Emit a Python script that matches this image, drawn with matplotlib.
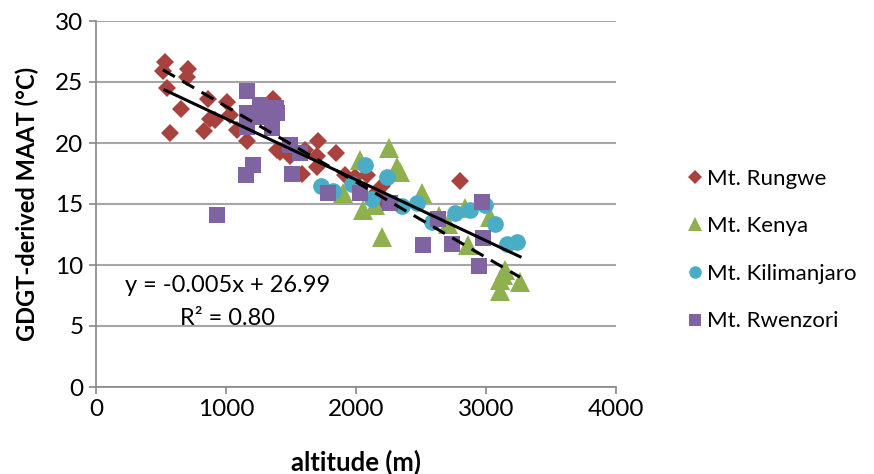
import matplotlib.pyplot as plt
import numpy as np

# --- data (altitude m, MAAT degC) ---
rungwe_alt = [531, 515, 546, 708, 700, 654, 569, 831, 862, 877, 915, 1008, 1031, 1085,
              1162, 1362, 1392, 1415, 1492, 1585, 1608, 1700, 1708, 1700, 1846, 1915,
              1992, 2085, 2162, 2200, 2208, 2800]
rungwe_t = [26.6, 25.9, 24.5, 26.1, 25.4, 22.8, 20.8, 21.0, 23.6, 22.0, 21.9, 23.4, 22.3, 21.1,
            20.2, 23.6, 19.4, 19.3, 18.9, 17.5, 19.4, 18.9, 20.2, 18.0, 19.2, 17.4,
            17.2, 17.4, 16.0, 16.5, 15.2, 16.9]

kenya_alt = [1900, 2031, 2054, 2146, 2200, 2254, 2315, 2338, 2508, 2638, 2708, 2838, 2862,
             3031, 3108, 3108, 3146, 3131, 3262]
kenya_t = [15.9, 18.6, 14.5, 14.9, 12.3, 19.6, 18.0, 17.6, 15.9, 14.0, 13.4, 14.7, 11.6,
           13.9, 8.8, 7.9, 9.6, 9.2, 8.6]

kili_alt = [1731, 1823, 1969, 2069, 2123, 2238, 2354, 2469, 2585, 2762, 2877, 2992, 3069,
            3162, 3238]
kili_t = [16.5, 16.1, 16.6, 18.2, 15.4, 17.2, 14.8, 15.1, 13.5, 14.3, 14.5, 14.9, 13.4,
          11.7, 11.9]

rwen_alt = [931, 1154, 1208, 1162, 1162, 1162, 1262, 1269, 1385, 1354, 1392, 1492, 1508,
            1569, 1785, 2031, 2262, 2515, 2631, 2738, 2969, 2977, 2946]
rwen_t = [14.1, 17.4, 18.2, 24.3, 22.5, 21.3, 23.1, 22.1, 22.9, 21.2, 22.5, 19.8, 17.5,
          19.2, 15.9, 15.9, 15.1, 11.6, 13.8, 11.7, 15.2, 12.2, 9.9]

# regression (solid) and dashed reference line endpoints
fit_slope, fit_icept = -0.005, 26.99
fit_range = [530, 3262]
dash_alt = [515, 3262]
dash_t = [26.0, 9.0]

font = 'Lato'
fs = 17.5

fig = plt.figure(figsize=(8.74, 4.74), dpi=100)
ax = fig.add_axes([96 / 874, 1 - 387 / 474, 520 / 874, 366 / 474])

ax.plot(rungwe_alt, rungwe_t, 'D', color='#A8423F', ms=9.5, mew=0, label='Mt. Rungwe', zorder=3)
ax.plot(kenya_alt, kenya_t, '^', color='#8FB04F', ms=14, mew=0, label='Mt. Kenya', zorder=3)
ax.plot(kili_alt, kili_t, 'o', color='#4BACC6', ms=12, mew=0, label='Mt. Kilimanjaro', zorder=3)
ax.plot(rwen_alt, rwen_t, 's', color='#8064A2', ms=11, mew=0, label='Mt. Rwenzori', zorder=3)

fx = np.array(fit_range)
ax.plot(fx, fit_slope * fx + fit_icept, color='black', lw=2.2, zorder=4)
ax.plot(dash_alt, dash_t, color='black', lw=2.2, ls=(0, (4.5, 2.8)), zorder=4)

ax.set_xlim(0, 4000)
ax.set_ylim(0, 30)
ax.set_xticks([0, 1000, 2000, 3000, 4000])
ax.set_yticks(range(0, 31, 5))
ax.yaxis.grid(True, color='#A6A6A6', lw=1.5)
ax.set_axisbelow(True)
for s in ['top', 'right']:
    ax.spines[s].set_visible(False)
for s in ['left', 'bottom']:
    ax.spines[s].set_color('#888888')
    ax.spines[s].set_linewidth(1.2)
ax.tick_params(colors='#888888', length=5, width=1.2, labelcolor='black', labelsize=fs, pad=4)
for lab in ax.get_xticklabels() + ax.get_yticklabels():
    lab.set_fontfamily(font)

ax.set_xlabel('altitude (m)', fontsize=18.5, fontweight='bold', family=font, labelpad=21)
ax.set_ylabel('GDGT-derived MAAT (°C)', fontsize=17, fontweight='bold', family=font, labelpad=12)

ax.text(1015, 8.3, 'y = -0.005x + 26.99', fontsize=17, family=font, ha='center', va='center')
ax.text(1015, 5.65, 'R² = 0.80', fontsize=17, family=font, ha='center', va='center')

leg = fig.legend(loc='center left', bbox_to_anchor=(664 / 874, 1 - 250 / 474), frameon=False,
                 prop={'family': font, 'size': 16}, handletextpad=0.05, labelspacing=1.24,
                 handlelength=1.0, markerscale=0.75)

fig.savefig('out.png', dpi=100)
